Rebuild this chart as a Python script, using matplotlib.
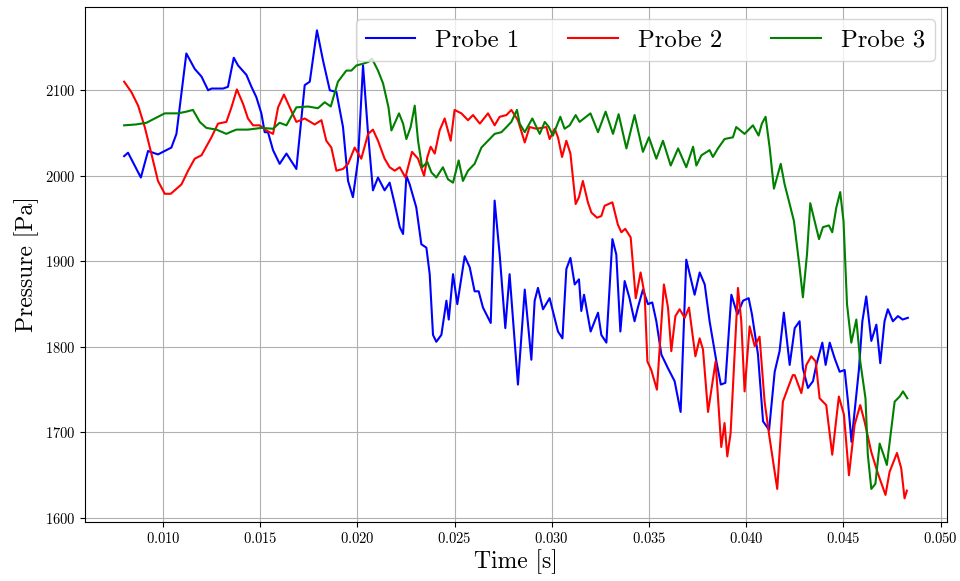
import matplotlib
matplotlib.use("Agg")
import matplotlib.pyplot as plt

# 폰트 설정 (Computer Modern 느낌)
plt.rcParams['font.family'] = 'serif'
plt.rcParams['font.serif'] = ['cmr10', 'DejaVu Serif']
plt.rcParams['mathtext.fontset'] = 'cm'
plt.rcParams['axes.formatter.use_mathtext'] = True

# Probe 1 데이터
t1 = [0.0080, 0.0082, 0.00886, 0.00923, 0.00974, 0.01043, 0.01069, 0.0112, 0.01163, 0.01198,
      0.01232, 0.0125, 0.01309, 0.01334, 0.01364, 0.01386, 0.01429, 0.01455, 0.0148, 0.01506,
      0.01523, 0.0154, 0.01566, 0.0160, 0.01635, 0.01686, 0.01729, 0.01755, 0.01792, 0.01823,
      0.01858, 0.01892, 0.01926, 0.01952, 0.01977, 0.02003, 0.02029, 0.02055, 0.0208, 0.02106,
      0.0214, 0.02166, 0.02192, 0.02218, 0.02235, 0.02252, 0.02269, 0.02303, 0.02329, 0.02355,
      0.02372, 0.02389, 0.02406, 0.02432, 0.02458, 0.0247, 0.02492, 0.02514, 0.02552, 0.02578,
      0.02603, 0.02624, 0.02646, 0.02686, 0.02706, 0.02732, 0.02761, 0.02783, 0.02826, 0.02861,
      0.02895, 0.02912, 0.02929, 0.02955, 0.02989, 0.03032, 0.03055, 0.03075, 0.03096, 0.03118,
      0.0314, 0.03152, 0.03166, 0.032, 0.03238, 0.03255, 0.03281, 0.03312, 0.03332, 0.03353,
      0.03375, 0.034, 0.03426, 0.03443, 0.03469, 0.03495, 0.03517, 0.03538, 0.03564, 0.03598,
      0.03632, 0.03663, 0.03692, 0.03735, 0.03761, 0.03787, 0.03812, 0.03847, 0.0387, 0.03893,
      0.03924, 0.03955, 0.03984, 0.04013, 0.0403, 0.04061, 0.04087, 0.04118, 0.04147, 0.04172,
      0.04194, 0.04224, 0.0425, 0.04275, 0.04292, 0.04318, 0.04344, 0.04361, 0.04392, 0.04409,
      0.0443, 0.04455, 0.04481, 0.04507, 0.04524, 0.04542, 0.04563, 0.0458, 0.04598, 0.04618,
      0.04644, 0.0467, 0.0469, 0.04712, 0.04729, 0.04755, 0.04781, 0.04805, 0.04832]
p1 = [2023, 2027, 1998, 2029, 2025, 2033, 2049, 2143, 2125, 2116,
      2100, 2102, 2102, 2104, 2138, 2129, 2118, 2104, 2092, 2073,
      2051, 2051, 2030, 2014, 2026, 2008, 2106, 2110, 2170, 2135,
      2100, 2098, 2057, 1994, 1975, 2018, 2129, 2049, 1983, 1998,
      1983, 1992, 1967, 1940, 1932, 2000, 1990, 1963, 1920, 1916,
      1885, 1814, 1806, 1814, 1854, 1832, 1885, 1850, 1906, 1893,
      1865, 1865, 1846, 1828, 1971, 1908, 1822, 1885, 1756, 1867,
      1785, 1854, 1869, 1844, 1857, 1818, 1810, 1891, 1904, 1873,
      1879, 1842, 1861, 1818, 1840, 1814, 1805, 1926, 1908, 1818,
      1877, 1857, 1830, 1846, 1867, 1850, 1852, 1830, 1791, 1775,
      1760, 1724, 1902, 1861, 1887, 1873, 1830, 1783, 1756, 1758,
      1861, 1838, 1854, 1857, 1838, 1791, 1713, 1703, 1771, 1795,
      1840, 1779, 1822, 1830, 1775, 1752, 1760, 1779, 1805, 1779,
      1805, 1787, 1771, 1773, 1736, 1689, 1736, 1773, 1830, 1859,
      1807, 1826, 1781, 1830, 1844, 1830, 1836, 1832, 1834]

# Probe 2 데이터
t2 = [0.0080, 0.00837, 0.00872, 0.00906, 0.0094, 0.00974, 0.01009, 0.0104, 0.01095, 0.01129,
      0.01163, 0.01198, 0.01249, 0.01283, 0.01326, 0.01352, 0.0138, 0.01412, 0.01437, 0.01463,
      0.01497, 0.01532, 0.01566, 0.01592, 0.01622, 0.01652, 0.01686, 0.01729, 0.0178, 0.01815,
      0.0184, 0.01866, 0.01892, 0.01926, 0.01952, 0.01986, 0.0202, 0.02055, 0.0208, 0.02106,
      0.0214, 0.02166, 0.02192, 0.02218, 0.02247, 0.02281, 0.02312, 0.02343, 0.0236, 0.02377,
      0.02398, 0.02423, 0.02449, 0.0248, 0.025, 0.02535, 0.02569, 0.02595, 0.0263, 0.02672,
      0.02706, 0.02732, 0.02767, 0.02792, 0.02826, 0.02861, 0.02886, 0.02921, 0.02972, 0.02989,
      0.03015, 0.03032, 0.03053, 0.03075, 0.03096, 0.03123, 0.0314, 0.0316, 0.03186, 0.03204,
      0.03233, 0.03255, 0.03272, 0.03312, 0.0334, 0.03358, 0.03378, 0.03406, 0.03432, 0.03457,
      0.03478, 0.03492, 0.03512, 0.03541, 0.03577, 0.03598, 0.03615, 0.03636, 0.03658, 0.03684,
      0.03706, 0.03739, 0.03761, 0.03778, 0.03804, 0.03843, 0.03872, 0.03889, 0.03903, 0.0392,
      0.03958, 0.03975, 0.03992, 0.04018, 0.04044, 0.04069, 0.04095, 0.04121, 0.0416, 0.04189,
      0.04215, 0.0424, 0.0425, 0.04284, 0.0431, 0.04335, 0.04358, 0.04378, 0.04412, 0.04443,
      0.04477, 0.04503, 0.04529, 0.04558, 0.04587, 0.04609, 0.04644, 0.04678, 0.04717, 0.04738,
      0.04776, 0.04798, 0.04815, 0.04827]
p2 = [2110, 2098, 2082, 2057, 2026, 1994, 1979, 1979, 1990, 2006,
      2020, 2024, 2045, 2061, 2063, 2080, 2101, 2084, 2067, 2059,
      2059, 2053, 2049, 2080, 2095, 2080, 2063, 2067, 2060, 2065,
      2041, 2033, 2006, 2008, 2014, 2033, 2020, 2049, 2054, 2041,
      2020, 2010, 2006, 2010, 1998, 2028, 2020, 2000, 2022, 2034,
      2026, 2053, 2067, 2041, 2077, 2073, 2065, 2071, 2061, 2073,
      2059, 2069, 2071, 2077, 2065, 2039, 2057, 2055, 2057, 2043,
      2055, 2045, 2022, 2041, 2026, 1967, 1975, 1994, 1969, 1957,
      1951, 1953, 1965, 1969, 1943, 1934, 1938, 1928, 1857, 1887,
      1861, 1783, 1773, 1750, 1873, 1846, 1795, 1836, 1844, 1834,
      1846, 1789, 1810, 1797, 1724, 1783, 1683, 1711, 1672, 1699,
      1869, 1830, 1748, 1824, 1801, 1812, 1736, 1693, 1634, 1736,
      1752, 1767, 1767, 1746, 1779, 1789, 1783, 1740, 1732, 1674,
      1742, 1721, 1650, 1709, 1732, 1713, 1677, 1652, 1627, 1654,
      1676, 1658, 1623, 1632]

# Probe 3 데이터
t3 = [0.0080, 0.0086, 0.00915, 0.00957, 0.01009, 0.01077, 0.0112, 0.01154, 0.01189, 0.01223,
      0.01275, 0.01326, 0.01355, 0.01378, 0.01437, 0.01506, 0.01566, 0.016, 0.01635, 0.01686,
      0.01746, 0.01797, 0.01832, 0.01863, 0.019, 0.01943, 0.01969, 0.01995, 0.02029, 0.02055,
      0.02075, 0.02106, 0.02132, 0.0216, 0.02175, 0.02195, 0.02214, 0.02235, 0.02252, 0.02274,
      0.02295, 0.02312, 0.02333, 0.0236, 0.02381, 0.02406, 0.0244, 0.02466, 0.02492, 0.02521,
      0.02543, 0.02569, 0.02603, 0.02638, 0.02672, 0.02706, 0.02741, 0.02767, 0.02792, 0.02821,
      0.02835, 0.02861, 0.029, 0.02921, 0.02938, 0.02964, 0.02985, 0.03006, 0.03044, 0.03066,
      0.03092, 0.03123, 0.03143, 0.03199, 0.03238, 0.03277, 0.03315, 0.03344, 0.03384, 0.03426,
      0.03469, 0.035, 0.03538, 0.03572, 0.03612, 0.0365, 0.03692, 0.03727, 0.03744, 0.0377,
      0.03812, 0.03829, 0.03855, 0.03889, 0.03932, 0.03949, 0.03992, 0.04035, 0.04064, 0.04081,
      0.041, 0.04121, 0.04143, 0.04178, 0.04198, 0.04224, 0.04246, 0.04275, 0.04292, 0.04313,
      0.0433, 0.04375, 0.04395, 0.04426, 0.04443, 0.04464, 0.04484, 0.04501, 0.04519, 0.04541,
      0.04567, 0.04587, 0.04614, 0.04626, 0.04644, 0.04665, 0.04687, 0.04707, 0.04724, 0.04764,
      0.0479, 0.04807, 0.04829]
p3 = [2059, 2060, 2062, 2067, 2073, 2073, 2075, 2077, 2063, 2056,
      2054, 2049, 2052, 2054, 2054, 2056, 2055, 2062, 2059, 2080,
      2081, 2079, 2086, 2081, 2110, 2123, 2123, 2129, 2131, 2133,
      2137, 2123, 2108, 2080, 2053, 2063, 2073, 2061, 2043, 2057,
      2082, 2041, 2010, 2016, 2004, 1998, 2010, 1996, 1992, 2018,
      1994, 2006, 2014, 2033, 2041, 2049, 2051, 2057, 2063, 2077,
      2061, 2051, 2067, 2057, 2049, 2063, 2057, 2047, 2069, 2055,
      2059, 2071, 2063, 2073, 2051, 2075, 2049, 2072, 2032, 2071,
      2028, 2045, 2020, 2041, 2012, 2032, 2010, 2034, 2012, 2024,
      2030, 2022, 2032, 2043, 2045, 2057, 2049, 2059, 2047, 2061,
      2069, 2033, 1985, 2014, 1990, 1967, 1947, 1893, 1858, 1908,
      1968, 1926, 1940, 1942, 1934, 1963, 1981, 1947, 1850, 1805,
      1832, 1783, 1740, 1674, 1634, 1640, 1687, 1674, 1662, 1736,
      1742, 1748, 1740]

x_ticks = [0.010, 0.015, 0.020, 0.025, 0.030, 0.035, 0.040, 0.045, 0.050]

# 그래프 생성
fig = plt.figure(figsize=(9.6, 5.81), dpi=100)
ax = fig.add_axes([0.0885, 0.102, 0.898, 0.886])

ax.plot(t1, p1, color='b', linewidth=1.5, label='Probe 1')
ax.plot(t2, p2, color='r', linewidth=1.5, label='Probe 2')
ax.plot(t3, p3, color='g', linewidth=1.5, label='Probe 3')

ax.set_xticks(x_ticks)
ax.tick_params(labelsize=10.5)
ax.set_xlabel('Time [s]', fontsize=17, labelpad=2)
ax.set_ylabel('Pressure [Pa]', fontsize=17)
ax.grid(True)
ax.legend(loc='upper right', ncol=3, fontsize=17.8)

# 그래프 저장
fig.savefig('out.png', dpi=100)
